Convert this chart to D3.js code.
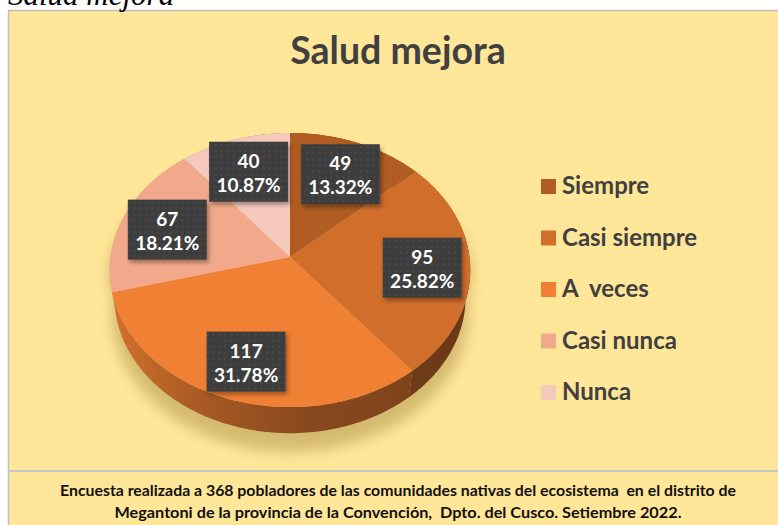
<!DOCTYPE html>
<html>
<head>
<meta charset="utf-8">
<script src="https://cdn.jsdelivr.net/npm/d3@7"></script>
<style>
  html, body { margin: 0; padding: 0; background: #fff; }
  svg { display: block; }
</style>
</head>
<body>
<svg id="chart" width="778" height="525"></svg>
<script>
const categories = ["Siempre", "Casi siempre", "A  veces", "Casi nunca", "Nunca"];
const counts = [49, 95, 117, 67, 40];
const pctLabels = ["13.32%", "25.82%", "31.78%", "18.21%", "10.87%"];
const colors = ["#B05C22", "#D26E2C", "#F08033", "#F2A98B", "#F6C9BD"];
const title = "Salud mejora";
const footer = [
    "Encuesta realizada a 368 pobladores de las comunidades nativas del ecosistema  en el distrito de",
    "Megantoni de la provincia de la Convención,  Dpto. del Cusco. Setiembre 2022."
];

const svg = d3.select("#chart");
const defs = svg.append("defs");

// perspective view of the tilted disc
const view = { cx: 290, cy: 257, k: 1238, dist: 6.9, sin: 0.757, cos: 0.656, depth: 0.24 };
const proj = (a, r, h) => {
    const u = r * Math.sin(a), v = -r * Math.cos(a);
    const z = view.dist - v * view.cos + h * view.sin;
    return [view.cx + view.k * u / z, view.cy + view.k * (v * view.sin + h * view.cos) / z];
};
const rim = (a0, a1, h) => {
    const n = Math.max(2, Math.ceil((a1 - a0) / 0.01));
    return d3.range(n + 1).map(i => proj(a0 + (a1 - a0) * i / n, 1, h));
};

// background, frame, footer
svg.append("rect").attr("x", 8).attr("y", 10).attr("width", 770).attr("height", 515).attr("fill", "#FFE699");
svg.append("path").attr("d", "M8.5,525V10.5H778").attr("fill", "none").attr("stroke", "#BFBFBF").attr("stroke-width", 1.5);
svg.append("line").attr("x1", 8).attr("x2", 778).attr("y1", 471).attr("y2", 471)
    .attr("stroke", "#C8C8C8").attr("stroke-width", 2);

svg.append("text")
    .attr("x", 8).attr("y", 5)
    .attr("font-family", "Liberation Serif")
    .attr("font-style", "italic")
    .attr("font-size", 31)
    .attr("fill", "#000")
    .text(title);

svg.append("text")
    .attr("x", 398).attr("y", 64)
    .attr("text-anchor", "middle")
    .attr("font-family", "Lato")
    .attr("font-weight", "bold")
    .attr("font-size", 37.5)
    .attr("fill", "#404040")
    .text(title);

const footWidths = [676, 567];
svg.selectAll(".foot")
    .data(footer)
    .join("text")
    .attr("class", "foot")
    .attr("x", 398).attr("y", (d, i) => 496 + i * 22)
    .attr("text-anchor", "middle")
    .attr("font-family", "Lato")
    .attr("font-weight", "bold")
    .attr("font-size", 14.5)
    .attr("textLength", (d, i) => footWidths[i])
    .attr("lengthAdjust", "spacingAndGlyphs")
    .attr("fill", "#111")
    .style("white-space", "pre")
    .text(d => d);

// pie
const pie = d3.pie().sort(null).value(d => d);
const arcs = pie(counts);

// soft shadow under the pie
defs.append("filter").attr("id", "blur").attr("x", "-20%").attr("y", "-20%").attr("width", "140%").attr("height", "140%")
    .append("feGaussianBlur").attr("stdDeviation", 7);
const outline = rim(Math.PI / 2, Math.PI * 1.5, view.depth);
svg.append("path")
    .attr("d", d3.line()(rim(-Math.PI / 2, Math.PI / 2, 0).concat(outline)) + "Z")
    .attr("transform", "translate(-4,12) scale(1.015)")
    .attr("fill", "#B89E55")
    .attr("opacity", 0.6)
    .attr("filter", "url(#blur)");

// side walls
const x0 = view.cx - 181, x1 = view.cx + 181;
arcs.forEach((d, i) => {
    const g = defs.append("linearGradient").attr("id", "wall" + i)
        .attr("gradientUnits", "userSpaceOnUse")
        .attr("x1", x0).attr("x2", x1).attr("y1", 0).attr("y2", 0);
    const c = d3.color(colors[i]);
    g.append("stop").attr("offset", 0).attr("stop-color", c.darker(0.35));
    g.append("stop").attr("offset", 0.25).attr("stop-color", c.darker(1.0));
    g.append("stop").attr("offset", 0.55).attr("stop-color", c.darker(1.6));
    g.append("stop").attr("offset", 1).attr("stop-color", c.darker(1.9));
});
svg.append("g")
    .selectAll("path")
    .data(arcs)
    .join("path")
    .attr("d", d => d3.line()(rim(d.startAngle, d.endAngle, 0)
        .concat(rim(d.startAngle, d.endAngle, view.depth).reverse())) + "Z")
    .attr("fill", (d, i) => `url(#wall${i})`);

// top faces
svg.append("g")
    .selectAll("path")
    .data(arcs)
    .join("path")
    .attr("d", d => d3.line()([proj(0, 0, 0)].concat(rim(d.startAngle, d.endAngle, 0))) + "Z")
    .attr("fill", (d, i) => colors[i]);

// data labels
const pat = defs.append("pattern").attr("id", "dots")
    .attr("patternUnits", "userSpaceOnUse").attr("width", 6).attr("height", 6);
pat.append("rect").attr("width", 6).attr("height", 6).attr("fill", "#3E3E3E");
pat.append("circle").attr("cx", 3).attr("cy", 3).attr("r", 0.9).attr("fill", "#4E4E4E");
defs.append("filter").attr("id", "shadow").attr("x", "-20%").attr("y", "-20%").attr("width", "150%").attr("height", "150%")
    .append("feDropShadow").attr("dx", 2).attr("dy", 3).attr("stdDeviation", 2)
    .attr("flood-color", "#000").attr("flood-opacity", 0.35);

const labels = svg.append("g")
    .selectAll("g")
    .data(arcs)
    .join("g")
    .attr("transform", d => {
        const p = proj((d.startAngle + d.endAngle) / 2, 0.735, 0);
        return `translate(${p[0]},${p[1] + 3})`;
    });
labels.append("rect")
    .attr("x", -39.5).attr("y", -30).attr("width", 79).attr("height", 60)
    .attr("fill", "url(#dots)")
    .attr("filter", "url(#shadow)");
labels.append("text")
    .attr("text-anchor", "middle")
    .attr("font-family", "Lato").attr("font-weight", "bold").attr("font-size", 19)
    .attr("fill", "#fff")
    .selectAll("tspan")
    .data((d, i) => [d.data, pctLabels[i]])
    .join("tspan")
    .attr("x", 0)
    .attr("y", (t, j) => j === 0 ? -4 : 20)
    .text(t => t);

// legend
const legend = svg.append("g")
    .selectAll("g")
    .data(categories)
    .join("g")
    .attr("transform", (d, i) => `translate(541,${194 + i * 51.5})`);
legend.append("rect")
    .attr("x", 0).attr("y", -15).attr("width", 15).attr("height", 15)
    .attr("fill", (d, i) => colors[i]);
legend.append("text")
    .attr("x", 21).attr("y", 0)
    .attr("font-family", "Lato").attr("font-weight", "bold").attr("font-size", 24)
    .attr("fill", "#404040")
    .style("white-space", "pre")
    .text(d => d);
</script>
</body>
</html>
